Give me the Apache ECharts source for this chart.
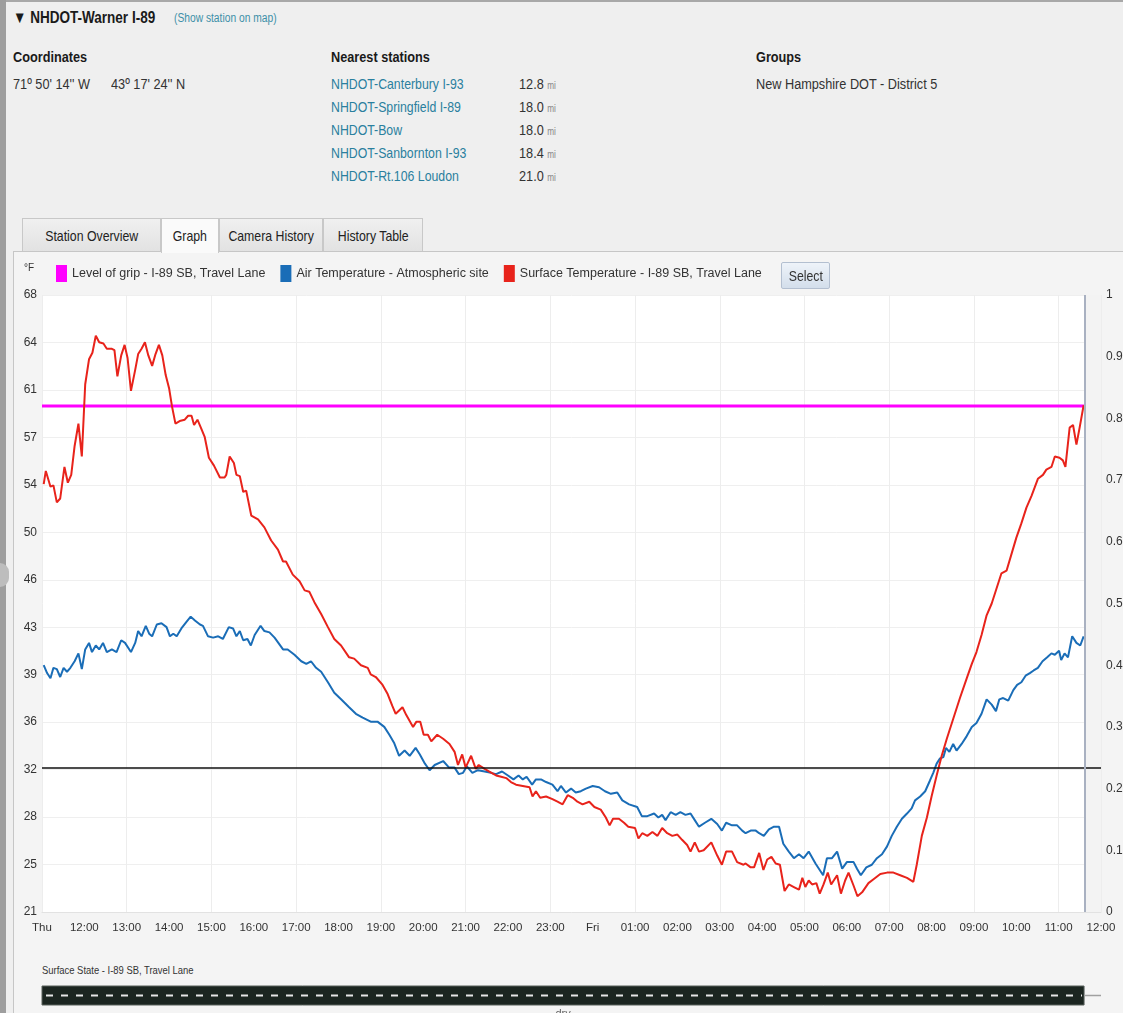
<!DOCTYPE html>
<html><head><meta charset="utf-8">
<script src="https://cdn.jsdelivr.net/npm/echarts@6/dist/echarts.min.js"></script>
<style>
html,body{margin:0;padding:0;}
body{width:1123px;height:1013px;overflow:hidden;background:#efefef;position:relative;font-family:"Liberation Sans",Arial,sans-serif;color:#222;}
.abs{position:absolute;white-space:nowrap;}
.n{transform:scaleX(0.82);transform-origin:0 0;}
.b{font-weight:bold;font-size:15.5px;line-height:18px;color:#1a1a1a;}
.t{font-size:15.5px;line-height:17px;color:#333;}
.lnk{font-size:15px;line-height:17px;color:#2a7f9e;}
.mi{font-size:10px;color:#888;}
.tab{position:absolute;top:218px;height:33px;border:1px solid #c8c8c8;border-bottom:none;background:linear-gradient(#f0f0f0,#e2e2e2);font-size:15px;line-height:34px;text-align:center;color:#222;box-sizing:border-box;white-space:nowrap;overflow:visible;}
.tab span{display:inline-block;white-space:nowrap;transform:scaleX(0.82);transform-origin:50% 50%;margin:0 -20px;}
</style></head>
<body>
<div class="abs" style="left:0;top:0;width:1123px;height:2px;background:#a8a8a8"></div>
<div class="abs" style="left:0;top:0;width:6px;height:1013px;background:#9e9e9e"></div>
<div class="abs" style="left:0;top:563px;width:9px;height:24px;background:#bdbdbd;border-radius:0 10px 10px 0"></div>

<div class="abs b n" style="left:13px;top:7px;font-size:16.5px;line-height:20px">&#9660; NHDOT-Warner I-89</div>
<div class="abs n" style="left:174px;top:11px;font-size:12.5px;line-height:14px;color:#3d8fa8">(Show station on map)</div>

<div class="abs b n" style="left:13px;top:48px">Coordinates</div>
<div class="abs t n" style="left:13px;top:75px">71º 50' 14'' W</div>
<div class="abs t n" style="left:111px;top:75px">43º 17' 24'' N</div>

<div class="abs b n" style="left:331px;top:48px">Nearest stations</div>
<div id="stations"></div>

<div class="abs b n" style="left:756px;top:48px">Groups</div>
<div class="abs t n" style="left:756px;top:75px">New Hampshire DOT - District 5</div>

<div class="abs" style="left:13px;top:251px;width:1110px;height:762px;background:#f4f4f4;border-top:1px solid #c6c6c6;border-left:1px solid #c6c6c6"></div>
<div class="tab" style="left:22px;width:139px"><span>Station Overview</span></div>
<div class="tab" style="left:161px;width:58px;height:35px;background:#fafafa"><span>Graph</span></div>
<div class="tab" style="left:219px;width:104px"><span>Camera History</span></div>
<div class="tab" style="left:323px;width:100px"><span>History Table</span></div>

<div class="abs n" style="left:42px;top:963px;font-size:11.5px;line-height:14px;color:#333">Surface State - I-89 SB, Travel Lane</div>

<div id="chart" class="abs" style="left:0;top:0;width:1123px;height:1013px;"></div>
<div class="abs" style="left:781px;top:262px;width:49px;height:27px;box-sizing:border-box;border:1px solid #b3bfd0;border-radius:2px;background:linear-gradient(#eef3f9,#d3deeb);font-size:15px;line-height:25px;text-align:center;color:#333;z-index:5"><span style="display:inline-block;transform:scaleX(0.82)">Select</span></div>

<script>
// ---------- data ----------
const stationNames = ['NHDOT-Canterbury I-93','NHDOT-Springfield I-89','NHDOT-Bow','NHDOT-Sanbornton I-93','NHDOT-Rt.106 Loudon'];
const stationDistances = ['12.8','18.0','18.0','18.4','21.0'];

const seriesNames = ['Level of grip - I-89 SB, Travel Lane','Air Temperature - Atmospheric site','Surface Temperature - I-89 SB, Travel Lane'];

// x: hours since Thu 11:00
const xTickLabels = ['Thu','12:00','13:00','14:00','15:00','16:00','17:00','18:00','19:00','20:00','21:00','22:00','23:00','Fri','01:00','02:00','03:00','04:00','05:00','06:00','07:00','08:00','09:00','10:00','11:00','12:00'];
const leftTickLabels = ['21','25','28','32','36','39','43','46','50','54','57','61','64','68'];
const leftMin = 21, leftMax = 68;
const freezingPoint = 32;
const currentTime = 24.62;

const gripLevel = [[0, 0.82], [24.6, 0.82]];

const surfaceTemp = [
[0.04,53.6],[0.09,54.6],[0.20,53.4],[0.27,53.5],[0.35,52.2],[0.43,52.5],[0.53,54.9],[0.61,53.7],[0.69,54.3],[0.77,56.5],[0.86,58.2],[0.94,55.7],[1.02,61.2],[1.11,63.1],[1.19,63.6],[1.27,64.9],[1.35,64.4],[1.45,64.3],[1.53,63.9],[1.65,63.9],[1.71,63.8],[1.78,61.8],[1.87,63.4],[1.95,64.2],[2.02,63.2],[2.10,60.7],[2.20,62.3],[2.27,63.5],[2.35,63.9],[2.43,64.4],[2.51,63.4],[2.60,62.6],[2.68,63.5],[2.76,64.2],[2.84,63.4],[2.92,61.9],[3.00,60.9],[3.07,59.5],[3.15,58.2],[3.25,58.4],[3.37,58.5],[3.45,58.8],[3.53,58.8],[3.59,58.1],[3.67,58.5],[3.75,57.9],[3.84,57.2],[3.94,55.6],[4.06,55.0],[4.20,54.1],[4.31,54.1],[4.35,54.3],[4.43,55.7],[4.53,55.2],[4.59,54.3],[4.67,54.2],[4.75,53.0],[4.82,53.1],[4.94,51.2],[5.10,50.9],[5.25,50.3],[5.41,49.3],[5.57,48.6],[5.69,47.7],[5.76,47.7],[5.92,46.7],[6.08,46.2],[6.20,45.5],[6.31,45.4],[6.43,44.6],[6.59,43.7],[6.75,42.7],[6.90,41.8],[7.06,41.3],[7.25,40.4],[7.37,40.3],[7.53,39.8],[7.69,39.6],[7.76,39.1],[7.88,38.9],[8.04,38.3],[8.16,37.6],[8.27,36.7],[8.35,36.1],
[8.51,36.6],[8.60,36.0],[8.76,35.1],[8.84,35.5],[8.93,35.5],[9.01,34.5],[9.11,34.5],[9.19,34.0],[9.33,34.5],[9.47,34.2],[9.62,33.8],[9.74,33.2],[9.82,32.2],[9.92,33.0],[10.00,32.0],[10.13,32.9],[10.24,31.9],[10.31,32.2],[10.45,31.9],[10.56,31.7],[10.72,31.4],[10.84,31.3],[10.96,31.2],[11.07,30.9],[11.19,30.7],[11.35,30.6],[11.51,30.5],[11.58,29.8],[11.66,30.2],[11.76,29.7],[11.90,29.8],[12.05,29.6],[12.17,29.4],[12.29,29.2],[12.41,29.9],[12.53,29.7],[12.64,29.4],[12.76,29.2],[12.92,29.4],[13.04,29.0],[13.19,28.8],[13.31,28.2],[13.40,27.6],[13.48,28.1],[13.62,28.1],[13.74,27.8],[13.84,27.5],[14.00,27.4],[14.08,26.6],[14.17,27.0],[14.29,26.8],[14.41,27.1],[14.53,26.8],[14.64,27.4],[14.76,27.0],[14.88,26.8],[15.00,26.9],[15.11,26.5],[15.23,26.1],[15.31,25.6],[15.41,26.3],[15.51,25.6],[15.62,25.7],[15.80,26.3],[15.94,25.3],[16.05,24.6],[16.15,25.6],[16.29,25.6],[16.41,24.8],[16.56,24.6],
[16.61,24.7],[16.73,24.4],[16.81,24.4],[16.93,25.5],[17.03,24.2],[17.12,25.0],[17.22,25.2],[17.32,24.7],[17.42,24.6],[17.53,22.6],[17.63,23.1],[17.75,22.9],[17.87,22.7],[17.95,23.6],[18.02,22.9],[18.10,23.4],[18.18,23.1],[18.28,23.2],[18.36,22.4],[18.45,23.1],[18.55,24.0],[18.63,23.1],[18.77,23.8],[18.86,22.4],[18.96,23.4],[19.04,24.0],[19.16,23.0],[19.25,22.2],[19.36,22.5],[19.51,23.2],[19.63,23.5],[19.79,23.9],[19.95,24.0],[20.10,24.0],[20.26,23.8],[20.42,23.6],[20.57,23.3],[20.65,24.6],[20.77,26.8],[20.89,28.2],[21.00,29.8],[21.12,31.4],[21.24,32.9],[21.36,34.2],[21.51,35.7],[21.67,37.3],[21.83,38.8],[21.95,39.9],[22.06,40.8],[22.18,42.1],[22.30,43.6],[22.42,44.5],[22.53,45.6],[22.65,46.8],[22.77,47.0],[22.89,48.3],[23.00,49.5],[23.12,50.6],[23.24,51.8],[23.36,52.7],[23.51,54.0],[23.63,54.3],[23.71,54.7],[23.83,54.9],[23.91,55.7],[24.02,55.6],[24.10,55.4],[24.16,54.9],[24.26,57.9],[24.34,58.1],[24.42,56.6],[24.49,57.8],[24.59,59.6]
];

const airTemp = [
[0.04,39.8],[0.12,39.2],[0.20,38.8],[0.27,39.6],[0.35,39.5],[0.43,38.9],[0.51,39.6],[0.59,39.3],[0.67,39.6],[0.77,40.1],[0.86,40.7],[0.94,39.5],[1.02,41.0],[1.11,41.5],[1.18,40.8],[1.27,41.3],[1.35,41.0],[1.44,41.5],[1.53,40.8],[1.65,41.0],[1.76,40.8],[1.87,41.7],[1.96,41.5],[2.10,40.8],[2.20,41.5],[2.27,42.4],[2.35,42.0],[2.45,42.8],[2.53,42.2],[2.60,42.0],[2.71,42.9],[2.82,43.0],[2.94,42.7],[3.02,42.0],[3.10,42.2],[3.18,42.0],[3.29,42.6],[3.41,43.1],[3.51,43.5],[3.61,43.2],[3.73,42.9],[3.80,42.8],[3.92,42.0],[4.04,41.9],[4.16,42.0],[4.27,41.8],[4.41,42.7],[4.51,42.6],[4.59,42.0],[4.67,42.4],[4.75,41.7],[4.85,41.8],[4.93,41.3],[5.02,42.1],[5.16,42.8],[5.25,42.4],[5.37,42.3],[5.49,41.9],[5.58,41.5],[5.69,41.0],[5.80,41.0],[5.96,40.6],[6.12,40.1],[6.24,39.9],[6.35,40.1],[6.47,39.6],[6.59,39.3],[6.75,38.5],[6.90,37.7],[7.06,37.2],[7.25,36.6],[7.41,36.1],[7.57,35.8],[7.76,35.5],[7.92,35.5],[8.08,35.1],[8.20,34.5],[8.31,33.9],
[8.43,32.9],[8.56,33.3],[8.68,32.9],[8.82,33.5],[8.92,33.0],[9.04,32.3],[9.15,31.8],[9.27,32.2],[9.47,32.5],[9.61,32.0],[9.74,32.0],[9.84,31.5],[9.94,31.6],[10.03,32.1],[10.16,31.6],[10.29,31.8],[10.45,31.7],[10.60,31.6],[10.72,31.5],[10.86,31.7],[11.00,31.4],[11.13,31.1],[11.25,31.4],[11.35,31.1],[11.44,31.3],[11.57,30.7],[11.66,31.1],[11.78,31.1],[11.90,30.9],[12.05,30.7],[12.17,30.2],[12.25,30.6],[12.37,30.1],[12.49,30.4],[12.60,30.1],[12.72,30.2],[12.84,30.4],[13.00,30.6],[13.15,30.5],[13.29,30.2],[13.43,30.0],[13.58,30.1],[13.70,29.5],[13.86,29.2],[14.05,29.0],[14.16,28.3],[14.29,28.3],[14.45,28.5],[14.55,28.2],[14.64,28.4],[14.72,28.0],[14.84,28.6],[14.96,28.4],[15.07,28.6],[15.19,28.4],[15.31,28.5],[15.41,28.0],[15.51,27.5],[15.65,27.8],[15.80,28.1],[15.94,27.7],[16.05,27.2],[16.15,27.8],[16.29,27.6],[16.41,27.6],[16.53,27.2],
[16.61,27.0],[16.73,27.2],[16.85,27.2],[16.93,27.0],[17.04,26.8],[17.16,27.3],[17.28,27.5],[17.40,27.5],[17.50,26.2],[17.63,25.6],[17.75,25.1],[17.87,25.4],[17.98,25.1],[18.10,25.6],[18.26,24.7],[18.44,23.8],[18.53,25.1],[18.65,25.1],[18.77,25.6],[18.89,24.3],[19.00,24.8],[19.16,24.8],[19.24,24.3],[19.33,23.8],[19.46,24.4],[19.59,24.6],[19.71,25.1],[19.83,25.4],[19.95,26.0],[20.06,26.8],[20.18,27.5],[20.30,28.1],[20.42,28.5],[20.53,28.9],[20.61,29.5],[20.73,29.8],[20.85,30.2],[20.96,31.0],[21.04,31.6],[21.12,32.3],[21.20,32.7],[21.28,32.8],[21.34,33.5],[21.42,33.2],[21.51,33.8],[21.59,33.3],[21.71,33.8],[21.83,34.4],[21.95,35.1],[22.06,35.4],[22.18,36.1],[22.30,37.2],[22.42,36.8],[22.52,36.3],[22.60,37.2],[22.69,37.3],[22.81,37.1],[22.93,37.9],[23.02,38.3],[23.12,38.5],[23.22,39.0],[23.32,39.2],[23.41,39.4],[23.51,39.6],[23.62,40.1],[23.73,40.4],[23.83,40.7],[23.91,40.6],[24.01,40.9],[24.06,40.2],[24.14,40.7],[24.22,40.4],[24.32,42.0],[24.42,41.5],[24.51,41.3],[24.59,42.0]
];

// surface state segments (hours since Thu 11:00)
const stateStarts = [0];
const stateEnds = [24.6];
const stateNames = ['dry'];

// ---------- page text ----------
const st = document.getElementById('stations');
const rowTops = [75, 98, 121, 144, 167];
stationNames.forEach((n, i) => {
  st.insertAdjacentHTML('beforeend',
    `<div class="abs lnk n" style="left:331px;top:${rowTops[i]}px">${n}</div>` +
    `<div class="abs t n" style="left:519px;top:${rowTops[i]}px">${stationDistances[i]} <span class="mi">mi</span></div>`);
});

// ---------- chart ----------
const FONT = '"Liberation Sans",Arial,sans-serif';
const leftTickVals = leftTickLabels.map((_, i) => leftMin + i * (leftMax - leftMin) / (leftTickLabels.length - 1));
const chart = echarts.init(document.getElementById('chart'), null, {renderer: 'canvas'});

const option = {
  animation: false,
  textStyle: {fontFamily: FONT},
  legend: {
    left: 56, top: 265, padding: 0, icon: 'rect', itemWidth: 11, itemHeight: 17, itemGap: 15,
    selectedMode: false,
    textStyle: {fontSize: 12.5, color: '#333', fontFamily: FONT},
    data: seriesNames
  },
  grid: [
    {left: 42, right: 22, top: 295, bottom: 101, show: true, backgroundColor: '#ffffff', borderWidth: 0, containLabel: false, outerBoundsMode: 'none'},
    {left: 42, right: 22, top: 986, height: 19, containLabel: false, outerBoundsMode: 'none'}
  ],
  xAxis: [
    {type: 'value', gridIndex: 0, min: 0, max: 25, interval: 1,
     axisLine: {show: true, lineStyle: {color: '#e2e2e2'}}, axisTick: {show: false}, splitLine: {show: false},
     axisLabel: {margin: 10, fontSize: 11.5, color: '#333', fontFamily: FONT, formatter: v => xTickLabels[Math.round(v)]}},
    {type: 'value', gridIndex: 0, min: 0, max: 25, interval: 2, position: 'bottom',
     axisLine: {show: false}, axisTick: {show: false}, axisLabel: {show: false},
     splitLine: {show: true, lineStyle: {color: '#ededed', width: 1}}},
    {type: 'value', gridIndex: 1, min: 0, max: 25, show: false}
  ],
  yAxis: [
    {type: 'value', gridIndex: 0, min: leftMin, max: leftMax, position: 'left',
     name: '°F', nameLocation: 'end', nameGap: 22,
     nameTextStyle: {fontSize: 10, color: '#333', align: 'right', verticalAlign: 'bottom', padding: [0, 8, 0, 0], fontFamily: FONT},
     axisLine: {show: false},
     axisTick: {show: false, customValues: leftTickVals},
     axisLabel: {customValues: leftTickVals, margin: 5, fontSize: 12, color: '#333', fontFamily: FONT,
       formatter: v => { const i = leftTickVals.findIndex(t => Math.abs(t - v) < 1e-6); return i >= 0 ? leftTickLabels[i] : ''; }},
     splitLine: {show: true, lineStyle: {color: '#efefef'}}},
    {type: 'value', gridIndex: 0, min: 0, max: 1, interval: 0.1, position: 'right',
     axisLine: {show: false}, axisTick: {show: false}, splitLine: {show: false},
     axisLabel: {margin: 5, fontSize: 12, color: '#333', fontFamily: FONT, align: 'left'}},
    {type: 'value', gridIndex: 1, min: 0, max: 1, show: false}
  ],
  series: [
    {name: seriesNames[0], type: 'line', xAxisIndex: 0, yAxisIndex: 1, data: gripLevel, symbol: 'none',
     color: '#ff00ff', lineStyle: {width: 3, color: '#ff00ff'}, z: 2},
    {name: seriesNames[1], type: 'line', xAxisIndex: 0, yAxisIndex: 0, data: airTemp, symbol: 'none',
     color: '#1a6db7', lineStyle: {width: 2, color: '#1a6db7'}, z: 3},
    {name: seriesNames[2], type: 'line', xAxisIndex: 0, yAxisIndex: 0, data: surfaceTemp, symbol: 'none',
     color: '#e8231b', lineStyle: {width: 2, color: '#e8231b'}, z: 4,
     markArea: {silent: true, itemStyle: {color: '#f3f3f3'}, data: [[{xAxis: currentTime}, {xAxis: 25}]]},
     markLine: {silent: true, symbol: ['none', 'none'], label: {show: false}, animation: false,
       data: [
         {yAxis: freezingPoint, lineStyle: {color: '#111', width: 1.5, type: 'solid'}},
         {xAxis: currentTime, lineStyle: {color: '#a9b1c1', width: 2, type: 'solid'}}
       ]}},
    {type: 'custom', xAxisIndex: 2, yAxisIndex: 2, clip: false, silent: true,
     data: stateStarts.map((s, i) => [s, stateEnds[i], i]),
     encode: {x: [0, 1]},
     renderItem: (params, api) => {
       const i = api.value(2);
       const p0 = api.coord([api.value(0), 1]);
       const p1 = api.coord([api.value(1), 0]);
       const pe = api.coord([25, 0]);
       const my = (p0[1] + p1[1]) / 2;
       return {type: 'group', children: [
         {type: 'rect', shape: {x: p0[0], y: p0[1], width: p1[0] - p0[0], height: p1[1] - p0[1]},
          style: {fill: '#1b2520', stroke: '#58605b', lineWidth: 1}},
         {type: 'line', shape: {x1: p0[0] + 4, y1: my, x2: p1[0] - 2, y2: my},
          style: {stroke: '#e6e6e6', lineWidth: 2, lineDash: [7, 8]}},
         {type: 'line', shape: {x1: p1[0], y1: my, x2: pe[0], y2: my},
          style: {stroke: '#a0a0a0', lineWidth: 1.5}},
         {type: 'text', style: {text: stateNames[i], x: (p0[0] + p1[0]) / 2, y: p1[1] + 3,
          align: 'center', verticalAlign: 'top', fill: '#666', font: '11px ' + FONT}}
       ]};
     }}
  ]
};
chart.setOption(option);
</script>
</body></html>
